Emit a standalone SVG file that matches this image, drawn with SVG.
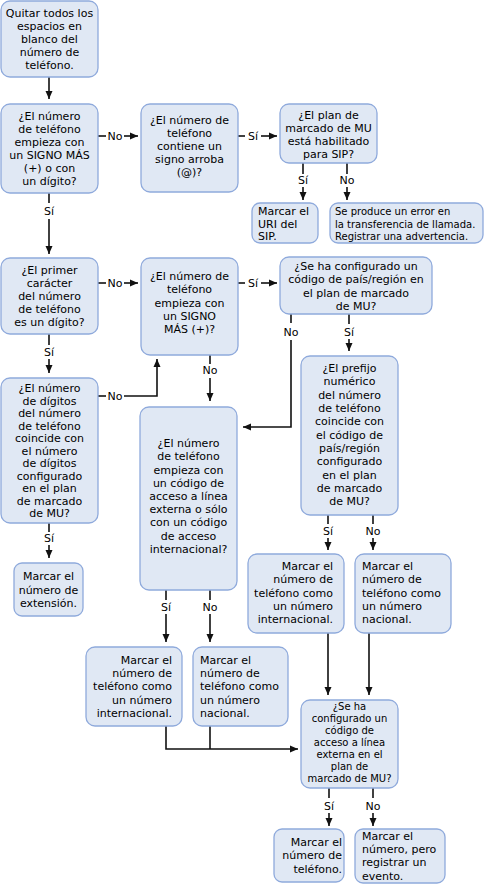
<svg xmlns="http://www.w3.org/2000/svg" width="485" height="885" viewBox="0 0 485 885">
<defs>
<marker id="ah" markerUnits="userSpaceOnUse" markerWidth="9" markerHeight="8" refX="8" refY="4" orient="auto">
<path d="M0,0.5 L8,4 L0,7.5 z" fill="#111"/>
</marker>
<style>
.box{fill:#E0E8F4;stroke:#8FAADC;stroke-width:1.3}
text{font-family:"DejaVu Sans",Verdana,sans-serif;font-size:11px;fill:#000}
.c{text-anchor:middle}
.r{text-anchor:end}
.s{font-size:10px}
.ln{fill:none;stroke:#111;stroke-width:1.6}
.lbl{text-anchor:middle}
</style>
</defs>
<rect width="485" height="885" fill="#fff"/>

<g id="connectors">
<line class="ln" x1="49" y1="77" x2="49" y2="99" marker-end="url(#ah)"/>
<line class="ln" x1="98" y1="136" x2="106" y2="136"/><text class="lbl" x="115" y="140">No</text><line class="ln" x1="124" y1="136" x2="138" y2="136" marker-end="url(#ah)"/>
<line class="ln" x1="238" y1="136" x2="245" y2="136"/><text class="lbl" x="253" y="140">Sí</text><line class="ln" x1="261" y1="136" x2="277" y2="136" marker-end="url(#ah)"/>
<line class="ln" x1="303" y1="163" x2="303" y2="174"/><text class="lbl" x="303" y="184">Sí</text><line class="ln" x1="303" y1="187" x2="303" y2="200" marker-end="url(#ah)"/>
<line class="ln" x1="347" y1="163" x2="347" y2="174"/><text class="lbl" x="347" y="184">No</text><line class="ln" x1="347" y1="187" x2="347" y2="200" marker-end="url(#ah)"/>
<line class="ln" x1="49" y1="193" x2="49" y2="203"/><text class="lbl" x="49" y="215">Sí</text><line class="ln" x1="49" y1="219" x2="49" y2="254" marker-end="url(#ah)"/>
<line class="ln" x1="98" y1="283" x2="106" y2="283"/><text class="lbl" x="115" y="287">No</text><line class="ln" x1="124" y1="283" x2="138" y2="283" marker-end="url(#ah)"/>
<line class="ln" x1="238" y1="283" x2="245" y2="283"/><text class="lbl" x="253" y="287">Sí</text><line class="ln" x1="261" y1="283" x2="277" y2="283" marker-end="url(#ah)"/>
<line class="ln" x1="49" y1="334" x2="49" y2="345"/><text class="lbl" x="49" y="356">Sí</text><line class="ln" x1="49" y1="359" x2="49" y2="373" marker-end="url(#ah)"/>
<line class="ln" x1="98" y1="396" x2="106" y2="396"/><text class="lbl" x="115" y="400">No</text><polyline class="ln" points="124,396 157,396 157,359" marker-end="url(#ah)"/>
<line class="ln" x1="49" y1="523" x2="49" y2="532"/><text class="lbl" x="49" y="542">Sí</text><line class="ln" x1="49" y1="545" x2="49" y2="558" marker-end="url(#ah)"/>
<line class="ln" x1="210" y1="355" x2="210" y2="364"/><text class="lbl" x="210" y="374">No</text><line class="ln" x1="210" y1="378" x2="210" y2="401" marker-end="url(#ah)"/>
<line class="ln" x1="291" y1="314" x2="291" y2="323"/><text class="lbl" x="291" y="336">No</text><polyline class="ln" points="291,340 291,427 243,427" marker-end="url(#ah)"/>
<line class="ln" x1="349" y1="314" x2="349" y2="324"/><text class="lbl" x="349" y="336">Sí</text><line class="ln" x1="349" y1="339" x2="349" y2="351" marker-end="url(#ah)"/>
<line class="ln" x1="328" y1="515" x2="328" y2="524"/><text class="lbl" x="328" y="535">Sí</text><line class="ln" x1="328" y1="538" x2="328" y2="550" marker-end="url(#ah)"/>
<line class="ln" x1="373" y1="515" x2="373" y2="524"/><text class="lbl" x="373" y="535">No</text><line class="ln" x1="373" y1="538" x2="373" y2="550" marker-end="url(#ah)"/>
<line class="ln" x1="166" y1="590" x2="166" y2="600"/><text class="lbl" x="166" y="611">Sí</text><line class="ln" x1="166" y1="614" x2="166" y2="642" marker-end="url(#ah)"/>
<line class="ln" x1="210" y1="590" x2="210" y2="600"/><text class="lbl" x="210" y="611">No</text><line class="ln" x1="210" y1="614" x2="210" y2="642" marker-end="url(#ah)"/>
<line class="ln" x1="328" y1="633" x2="328" y2="695" marker-end="url(#ah)"/>
<line class="ln" x1="369" y1="633" x2="369" y2="695" marker-end="url(#ah)"/>
<polyline class="ln" points="166,726 166,749 298,749" marker-end="url(#ah)"/>
<line class="ln" x1="210" y1="726" x2="210" y2="749"/>
<line class="ln" x1="329" y1="788" x2="329" y2="798"/><text class="lbl" x="329" y="810">Sí</text><line class="ln" x1="329" y1="813" x2="329" y2="826" marker-end="url(#ah)"/>
<line class="ln" x1="373" y1="788" x2="373" y2="798"/><text class="lbl" x="373" y="810">No</text><line class="ln" x1="373" y1="813" x2="373" y2="826" marker-end="url(#ah)"/>
</g>

<g id="n1"><rect class="box" x="1" y="1" width="97" height="76" rx="9"/>
<text class="c" x="49.5" y="17">Quitar todos los</text><text class="c" x="49.5" y="30">espacios en</text><text class="c" x="49.5" y="43">blanco del</text><text class="c" x="49.5" y="56">número de</text><text class="c" x="49.5" y="69">teléfono.</text></g>

<g id="n2"><rect class="box" x="1" y="104" width="97" height="89" rx="9"/>
<text class="c" x="49.5" y="120">¿El número</text><text class="c" x="49.5" y="133">de teléfono</text><text class="c" x="49.5" y="146">empieza con</text><text class="c" x="49.5" y="159">un SIGNO MÁS</text><text class="c" x="49.5" y="172">(+) o con</text><text class="c" x="49.5" y="185">un dígito?</text></g>

<g id="n3"><rect class="box" x="141" y="104" width="97" height="88" rx="9"/>
<text class="c" x="189.5" y="124">¿El número de</text><text class="c" x="189.5" y="137">teléfono</text><text class="c" x="189.5" y="150">contiene un</text><text class="c" x="189.5" y="163">signo arroba</text><text class="c" x="189.5" y="176">(@)?</text></g>

<g id="n4"><rect class="box" x="280" y="104" width="97" height="59" rx="9"/>
<text class="c" x="328.5" y="119">¿El plan de</text><text class="c" x="328.5" y="132">marcado de MU</text><text class="c" x="328.5" y="145">está habilitado</text><text class="c" x="328.5" y="158">para SIP?</text></g>

<g id="n5"><rect class="box" x="252" y="203" width="66" height="40" rx="8"/>
<text x="258" y="215">Marcar el</text><text x="258" y="228">URI del</text><text x="258" y="240">SIP.</text></g>

<g id="n6"><rect class="box" x="330" y="203" width="153" height="40" rx="8"/>
<text class="s" x="335" y="215">Se produce un error en</text><text class="s" x="335" y="228">la transferencia de llamada.</text><text class="s" x="335" y="240">Registrar una advertencia.</text></g>

<g id="n7"><rect class="box" x="1" y="258" width="97" height="76" rx="9"/>
<text class="c" x="49.5" y="274">¿El primer</text><text class="c" x="49.5" y="287">carácter</text><text class="c" x="49.5" y="300">del número</text><text class="c" x="49.5" y="313">de teléfono</text><text class="c" x="49.5" y="326">es un dígito?</text></g>

<g id="n8"><rect class="box" x="141" y="258" width="97" height="97" rx="9"/>
<text class="c" x="189.5" y="280">¿El número de</text><text class="c" x="189.5" y="293">teléfono</text><text class="c" x="189.5" y="306.5">empieza con</text><text class="c" x="189.5" y="319.5">un SIGNO</text><text class="c" x="189.5" y="333">MÁS (+)?</text></g>

<g id="n9"><rect class="box" x="1" y="378" width="97" height="145" rx="9"/>
<text class="c" x="49.5" y="392">¿El número</text><text class="c" x="49.5" y="404.5">de dígitos</text><text class="c" x="49.5" y="417">del número</text><text class="c" x="49.5" y="429.5">de teléfono</text><text class="c" x="49.5" y="442">coincide con</text><text class="c" x="49.5" y="454.5">el número</text><text class="c" x="49.5" y="467">de dígitos</text><text class="c" x="49.5" y="479.5">configurado</text><text class="c" x="49.5" y="492">en el plan</text><text class="c" x="49.5" y="504.5">de marcado</text><text class="c" x="49.5" y="517">de MU?</text></g>

<g id="n10"><rect class="box" x="140" y="407" width="97" height="183" rx="9"/>
<text class="c" x="188.5" y="447">¿El número</text><text class="c" x="188.5" y="460">de teléfono</text><text class="c" x="188.5" y="473.5">empieza con</text><text class="c" x="188.5" y="486.5">un código de</text><text class="c" x="188.5" y="500">acceso a línea</text><text class="c" x="188.5" y="513">externa o sólo</text><text class="c" x="188.5" y="526">con un código</text><text class="c" x="188.5" y="539.5">de acceso</text><text class="c" x="188.5" y="552.5">internacional?</text></g>

<g id="n11"><rect class="box" x="280" y="257" width="152" height="57" rx="9"/>
<text class="c" x="356" y="270">¿Se ha configurado un</text><text class="c" x="356" y="283">código de país/región en</text><text class="c" x="356" y="296.5">el plan de marcado</text><text class="c" x="356" y="309.5">de MU?</text></g>

<g id="n12"><rect class="box" x="301" y="356" width="97" height="159" rx="9"/>
<text class="c" x="349.5" y="372">¿El prefijo</text><text class="c" x="349.5" y="385.3">numérico</text><text class="c" x="349.5" y="398.7">del número</text><text class="c" x="349.5" y="412">de teléfono</text><text class="c" x="349.5" y="425.3">coincide con</text><text class="c" x="349.5" y="438.7">el código de</text><text class="c" x="349.5" y="452">país/región</text><text class="c" x="349.5" y="465.3">configurado</text><text class="c" x="349.5" y="478.7">en el plan</text><text class="c" x="349.5" y="492">de marcado</text><text class="c" x="349.5" y="505.3">de MU?</text></g>

<g id="n13"><rect class="box" x="248" y="554" width="96" height="79" rx="9"/>
<text class="r" x="333" y="570">Marcar el</text><text class="r" x="333" y="583.3">número de</text><text class="r" x="333" y="596.7">teléfono como</text><text class="r" x="333" y="610">un número</text><text class="r" x="333" y="623.3">internacional.</text></g>

<g id="n14"><rect class="box" x="355" y="554" width="96" height="79" rx="9"/>
<text x="362" y="570">Marcar el</text><text x="362" y="583.3">número de</text><text x="362" y="596.7">teléfono como</text><text x="362" y="610">un número</text><text x="362" y="623.3">nacional.</text></g>

<g id="n15"><rect class="box" x="301" y="700" width="97" height="88" rx="9"/>
<text class="c s" x="349.5" y="710">¿Se ha</text><text class="c s" x="349.5" y="722">configurado un</text><text class="c s" x="349.5" y="734">código de</text><text class="c s" x="349.5" y="746">acceso a línea</text><text class="c s" x="349.5" y="758">externa en el</text><text class="c s" x="349.5" y="770">plan de</text><text class="c s" x="349.5" y="782">marcado de MU?</text></g>

<g id="n16"><rect class="box" x="86" y="647" width="96" height="79" rx="9"/>
<text class="r" x="172" y="663.5">Marcar el</text><text class="r" x="172" y="676.8">número de</text><text class="r" x="172" y="690.2">teléfono como</text><text class="r" x="172" y="703.5">un número</text><text class="r" x="172" y="716.8">internacional.</text></g>

<g id="n17"><rect class="box" x="193" y="647" width="95" height="79" rx="9"/>
<text x="200" y="663.5">Marcar el</text><text x="200" y="676.8">número de</text><text x="200" y="690.2">teléfono como</text><text x="200" y="703.5">un número</text><text x="200" y="716.8">nacional.</text></g>

<g id="n18"><rect class="box" x="274" y="829" width="70" height="53" rx="8"/>
<text class="r" x="342" y="846">Marcar el</text><text class="r" x="342" y="859.3">número de</text><text class="r" x="342" y="872.7">teléfono.</text></g>

<g id="n19"><rect class="box" x="355" y="829" width="90" height="54" rx="8"/>
<text x="362" y="840">Marcar el</text><text x="362" y="853.2">número, pero</text><text x="362" y="866.4">registrar un</text><text x="362" y="879.6">evento.</text></g>

<g id="n20"><rect class="box" x="14" y="563" width="69" height="53" rx="8"/>
<text class="c" x="48.5" y="580">Marcar el</text><text class="c" x="48.5" y="593.5">número de</text><text class="c" x="48.5" y="606.5">extensión.</text></g>
</svg>
